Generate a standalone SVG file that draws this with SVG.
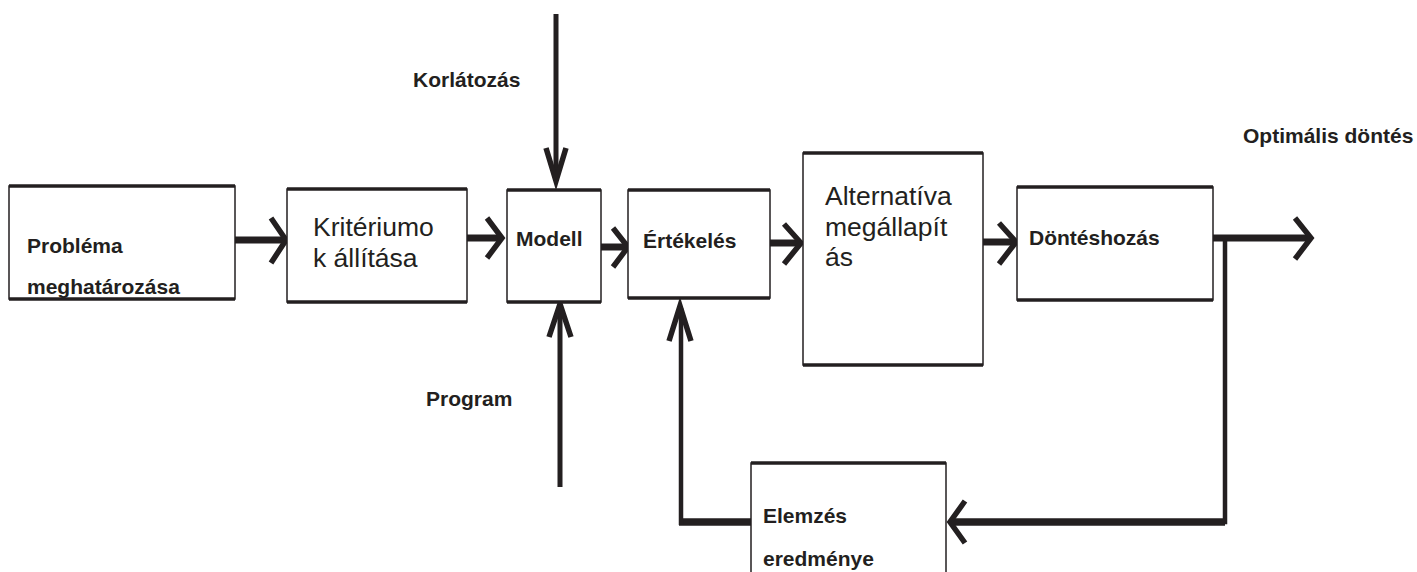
<svg xmlns="http://www.w3.org/2000/svg" width="1417" height="572" viewBox="0 0 1417 572">
<style>
.box{fill:#fff;stroke:#231f20;stroke-width:1.5}
.hb{stroke:#231f20;stroke-width:3.5;fill:none}
.b{font-family:"Liberation Sans",Arial,sans-serif;font-weight:bold;font-size:21px;fill:#231f20}
.r{font-family:"Liberation Sans",Arial,sans-serif;font-size:26.5px;fill:#231f20}
.ln{stroke:#231f20;fill:none;stroke-linecap:butt}
.head{stroke:#231f20;fill:none;stroke-width:5.5;stroke-linejoin:miter;stroke-miterlimit:10}
</style>
<g id="connectors">
  <line class="ln" x1="235" y1="240" x2="284" y2="240" stroke-width="7"/>
  <polyline class="head" points="271,218 286,240 271,263"/>
  <line class="ln" x1="467" y1="238" x2="500" y2="238" stroke-width="7"/>
  <polyline class="head" points="487,218 502,238 487,258"/>
  <line class="ln" x1="601" y1="247" x2="626" y2="247" stroke-width="7"/>
  <polyline class="head" points="613,228 628,247 613,267"/>
  <line class="ln" x1="770" y1="243" x2="799" y2="243" stroke-width="7"/>
  <polyline class="head" points="784,224 801,243 784,264"/>
  <line class="ln" x1="983" y1="242" x2="1014" y2="242" stroke-width="7"/>
  <polyline class="head" points="999,223 1016,242 999,264"/>
  <line class="ln" x1="1213" y1="238" x2="1309" y2="238" stroke-width="7"/>
  <polyline class="head" points="1295,218 1311,238 1295,259"/>
  <line class="ln" x1="556" y1="14" x2="556" y2="179" stroke-width="5"/>
  <polyline class="head" points="546,148 556,181 566,148"/>
  <line class="ln" x1="560" y1="487" x2="560" y2="306" stroke-width="5"/>
  <polyline class="head" points="549,337 560,304 571,337"/>
  <polyline class="ln" points="1225,238 1225,522 952,522" stroke-width="4.5"/>
  <line class="ln" x1="1225" y1="522" x2="952" y2="522" stroke-width="7.5"/>
  <polyline class="head" points="965,501 950,522 965,543"/>
  <line class="ln" x1="753" y1="522" x2="679" y2="522" stroke-width="7.5"/>
  <line class="ln" x1="681" y1="525" x2="681" y2="308" stroke-width="4.5"/>
  <polyline class="head" points="669,341 680,306 691,341"/>
</g>
<g id="n1">
  <rect class="box" x="9" y="186" width="226" height="113"/>
  <line class="hb" x1="9" y1="186" x2="235" y2="186" stroke-width="2.5"/>
  <line class="hb" x1="9" y1="299" x2="235" y2="299"/>
  <text class="b" x="27" y="253">Probléma</text>
  <text class="b" x="27" y="294">meghatározása</text>
</g>
<g id="n2">
  <rect class="box" x="287" y="189" width="180" height="113"/>
  <line class="hb" x1="287" y1="189" x2="467" y2="189"/>
  <line class="hb" x1="287" y1="302" x2="467" y2="302"/>
  <text class="r" x="313" y="236">Kritériumo</text>
  <text class="r" x="313" y="267">k állítása</text>
</g>
<g id="n3">
  <rect class="box" x="507" y="190" width="94" height="112"/>
  <line class="hb" x1="507" y1="190" x2="601" y2="190"/>
  <line class="hb" x1="507" y1="302" x2="601" y2="302"/>
  <text class="b" x="516" y="246">Modell</text>
</g>
<g id="n4">
  <rect class="box" x="628" y="190" width="142" height="108"/>
  <line class="hb" x1="628" y1="190" x2="770" y2="190"/>
  <line class="hb" x1="628" y1="298" x2="770" y2="298"/>
  <text class="b" x="643" y="248">Értékelés</text>
</g>
<g id="n5">
  <rect class="box" x="803" y="153" width="180" height="212"/>
  <line class="hb" x1="803" y1="153" x2="983" y2="153"/>
  <line class="hb" x1="803" y1="365" x2="983" y2="365"/>
  <text class="r" x="825" y="205">Alternatíva</text>
  <text class="r" x="825" y="236">megállapít</text>
  <text class="r" x="825" y="266">ás</text>
</g>
<g id="n6">
  <rect class="box" x="1017" y="187" width="196" height="113"/>
  <line class="hb" x1="1017" y1="187" x2="1213" y2="187"/>
  <line class="hb" x1="1017" y1="300" x2="1213" y2="300"/>
  <text class="b" x="1029" y="245">Döntéshozás</text>
</g>
<g id="n7">
  <rect class="box" x="751" y="463" width="195" height="120"/>
  <line class="hb" x1="751" y1="463" x2="946" y2="463"/>
  <text class="b" x="763" y="523">Elemzés</text>
  <text class="b" x="763" y="566">eredménye</text>
</g>
<g id="labels">
  <text class="b" x="413" y="87">Korlátozás</text>
  <text class="b" x="426" y="406">Program</text>
  <text class="b" x="1243" y="143">Optimális döntés</text>
</g>
</svg>
